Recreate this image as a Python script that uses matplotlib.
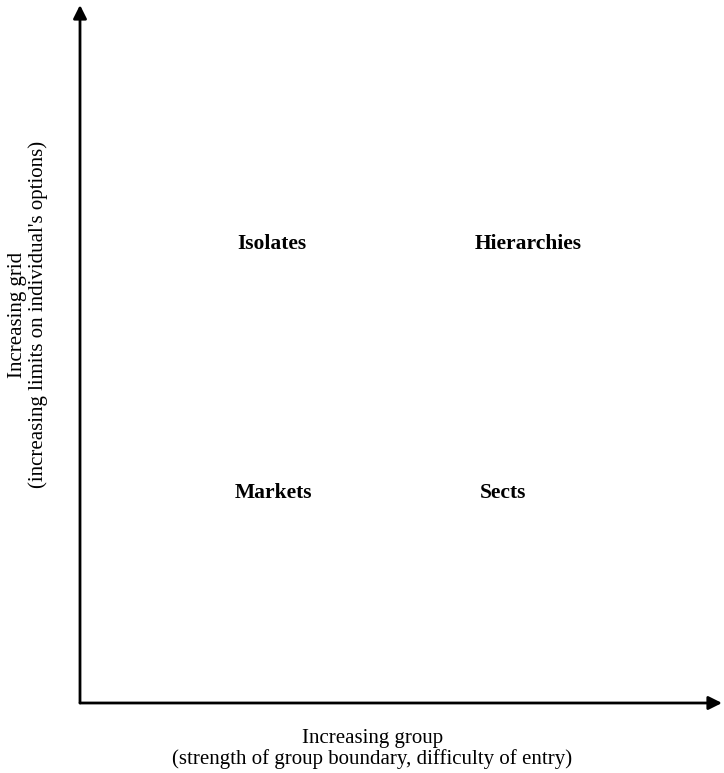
import matplotlib
matplotlib.use("Agg")
import matplotlib.pyplot as plt

# quadrant labels (grid/group typology)
categories = ["Isolates", "Hierarchies", "Markets", "Sects"]
group_level = [0.245, 0.615, 0.241, 0.623]   # position along "group" axis (0..1)
grid_level = [0.658, 0.658, 0.301, 0.301]    # position along "grid" axis (0..1)

x_title = "Increasing group\n(strength of group boundary, difficulty of entry)"
y_title = "Increasing grid\n(increasing limits on individual's options)"

plt.rcParams['font.family'] = ['Liberation Serif', 'DejaVu Serif']

fig = plt.figure(figsize=(7.24, 7.73), dpi=100)
W, H = 724, 773
ax = fig.add_axes([80 / W, (H - 703) / H, (722 - 80) / W, (703 - 5) / H])
ax.set_xlim(0, 1)
ax.set_ylim(0, 1)
ax.axis('off')

# axes drawn as arrows
arrow = dict(arrowstyle='-|>', lw=2, color='black', mutation_scale=20,
             shrinkA=0, shrinkB=0)
ax.annotate("", xy=(1, 0), xytext=(0, 0), arrowprops=arrow, annotation_clip=False)
ax.annotate("", xy=(0, 1), xytext=(0, 0), arrowprops=arrow, annotation_clip=False)

for name, gx, gy in zip(categories, group_level, grid_level):
    ax.text(gx, gy, name, ha='left', va='center', fontsize=15.5, fontweight='bold')

ax.text(0.455, -0.066, x_title, transform=ax.transAxes, ha='center', va='center',
        fontsize=15, linespacing=1.1)
ax.text(-0.081, 0.556, y_title, transform=ax.transAxes, ha='center', va='center',
        rotation=90, fontsize=15, linespacing=1.1)

fig.savefig("out.png", dpi=100)
